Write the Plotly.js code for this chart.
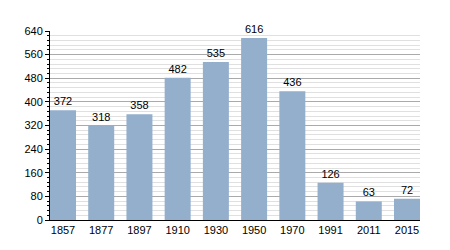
<!DOCTYPE html>
<html><head><meta charset="utf-8">
<script src="https://cdn.plot.ly/plotly-3.0.1.min.js"></script>
<style>html,body{margin:0;padding:0;background:#fff}#c{width:450px;height:250px}</style>
</head><body><div id="c"></div>
<script>
var years = ["1857","1877","1897","1910","1930","1950","1970","1991","2011","2015"];
var population = [372,318,358,482,535,616,436,126,63,72];
var yTicks = [0,80,160,240,320,400,480,560,640];

var trace = {
  type: 'bar', x: years, y: population,
  text: population.map(String), textposition: 'outside',
  textfont: {family: 'Liberation Sans, Arial, sans-serif', size: 11, color: '#000'},
  marker: {color: '#93afcc'}, cliponaxis: false, hoverinfo: 'none'
};
var layout = {
  width: 450, height: 250,
  margin: {l: 50, r: 30, t: 31, b: 30},
  paper_bgcolor: '#fff', plot_bgcolor: '#fff',
  showlegend: false, bargap: 0.32,
  font: {family: 'Liberation Sans, Arial, sans-serif', size: 11, color: '#000'},
  xaxis: {type: 'category', range: [-0.34, 9.34], showline: true, linecolor: '#000', linewidth: 1,
          ticks: '', showgrid: false, zeroline: false, fixedrange: true},
  yaxis: {range: [0, 640], tickvals: yTicks, ticktext: yTicks.map(String),
          showline: true, linecolor: '#000', linewidth: 1, ticks: 'outside', ticklen: 4, tickcolor: '#000',
          showgrid: true, gridcolor: '#aaaaaa', gridwidth: 1, zeroline: false,
          minor: {dtick: 16, tick0: 0, showgrid: true, gridcolor: '#e0e0e0', gridwidth: 1, ticks: 'outside', ticklen: 2, tickcolor: '#000'}}
};
Plotly.newPlot('c', [trace], layout, {staticPlot: true});
</script></body></html>
